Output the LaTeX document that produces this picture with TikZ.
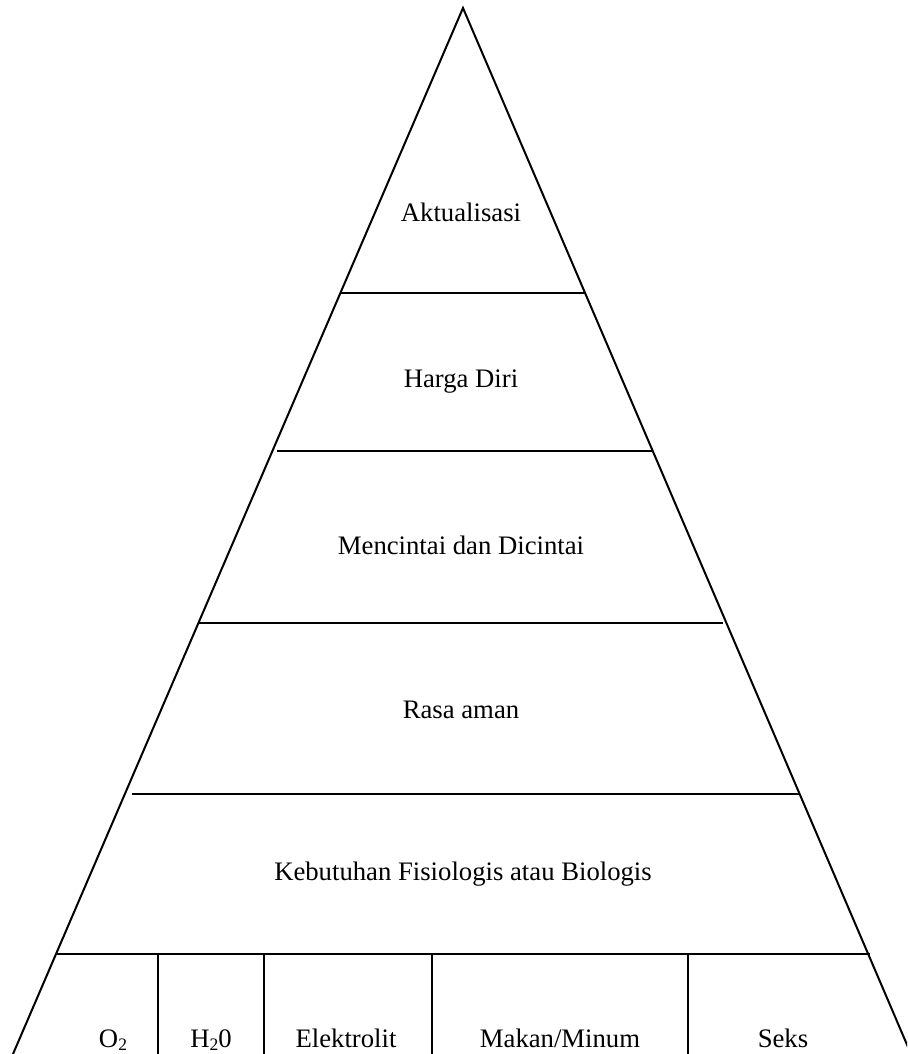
\documentclass[tikz,border=0pt]{standalone}
\usepackage{fontspec}
\setmainfont{Liberation Serif}
\usepackage{tikz}
\usetikzlibrary{positioning, calc}
\newcommand{\lowsub}[1]{\raisebox{-0.3ex}{\fontsize{17.5}{18}\selectfont #1}}

\begin{document}
\begin{tikzpicture}[
    x=1pt, y=-1pt,
    every node/.style={font=\fontsize{26.7}{30}\selectfont},
    edge/.style={line width=2pt, draw=black},
    level/.style={anchor=base, inner sep=0pt},
    need/.style={anchor=base, inner sep=0pt}
]
    \useasboundingbox (0,0) rectangle (907,1054);
    \clip (0,0) rectangle (907,1054);

    % Outline
    \coordinate (top) at (463,8);
    \coordinate (botleft) at (13,1054);
    \coordinate (botright) at (911,1054);
    \draw[edge] (botleft) -- (top) -- (botright);

    % Level dividers
    \coordinate (l1) at (341,293);     \coordinate (r1) at (585,293);
    \coordinate (l2) at (277,451);     \coordinate (r2) at (653,451);
    \coordinate (l3) at (198,623);     \coordinate (r3) at (723,623);
    \coordinate (l4) at (131.5,794);   \coordinate (r4) at (799,794);
    \coordinate (l5) at (56.7,954);    \coordinate (r5) at (870,954);
    \draw[edge] (l1) -- (r1);
    \draw[edge] (l2) -- (r2);
    \draw[edge] (l3) -- (r3);
    \draw[edge] (l4) -- (r4);
    \draw[edge] (l5) -- (r5);

    % Levels
    \node[level] (aktual) at (461,221) {Aktualisasi};
    \node[level] (harga) at (461,387) {Harga Diri};
    \node[level] (cinta) at (461,554) {Mencintai dan Dicintai};
    \node[level] (aman) at (461,718) {Rasa aman};
    \node[level] (fisio) at (463,880) {Kebutuhan Fisiologis atau Biologis};

    % Bottom row
    \coordinate (c1) at (158,954);  \coordinate (d1) at (158,1054);
    \coordinate (c2) at (264,954);  \coordinate (d2) at (264,1054);
    \coordinate (c3) at (432,954);  \coordinate (d3) at (432,1054);
    \coordinate (c4) at (688,954);  \coordinate (d4) at (688,1054);
    \draw[edge] (c1) -- (d1);
    \draw[edge] (c2) -- (d2);
    \draw[edge] (c3) -- (d3);
    \draw[edge] (c4) -- (d4);

    \node[need] (oksigen) at (113,1047) {O\lowsub{2}};
    \node[need] (air) at (211,1047) {H\lowsub{2}0};
    \node[need] (elektro) at (346,1047) {Elektrolit};
    \node[need] (makan) at (560,1047) {Makan/Minum};
    \node[need] (seks) at (783,1047) {Seks};
\end{tikzpicture}
\end{document}
